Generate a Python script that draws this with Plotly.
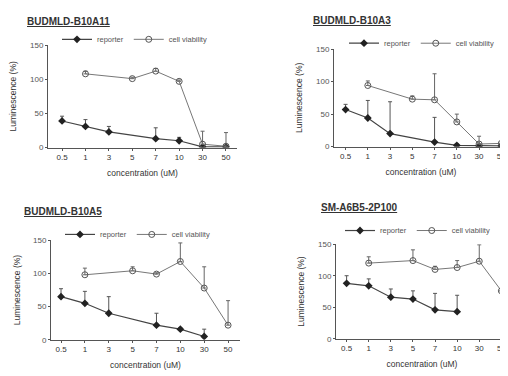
import plotly.graph_objects as go

conc = ["0.5", "1", "3", "5", "7", "10", "30", "50"]
y_ticks = [0, 50, 100, 150]

titles = ["BUDMLD-B10A11", "BUDMLD-B10A3", "BUDMLD-B10A5", "SM-A6B5-2P100"]

rep = [
    [39, 31, 23, None, 13, 10, 1, 1],
    [57, 44, 20, None, 7, 2, 1, 1],
    [65, 55, 40, None, 22, 16, 5, None],
    [88, 84, 66, 63, 46, 43, None, None],
]
rep_err = [
    [7, 10, 8, 0, 16, 5, 0, 0],
    [8, 27, 49, 0, 38, 2, 0, 0],
    [12, 18, 25, 0, 18, 2, 11, 0],
    [12, 11, 13, 13, 26, 26, 0, 0],
]
via = [
    [None, 108, None, 101, 112, 97, 5, 2],
    [None, 94, None, 73, 72, 38, 4, 5],
    [None, 98, None, 104, 99, 118, 78, 22],
    [None, 120, None, 124, 110, 113, 123, 76],
]
via_err = [
    [0, 4, 0, 2, 4, 2, 19, 20],
    [0, 7, 0, 5, 40, 12, 12, 0],
    [0, 10, 0, 6, 2, 28, 32, 37],
    [0, 10, 0, 17, 5, 11, 26, 0],
]

# The page body has an 8px default margin, so the figure is 500x368 and
# geometry below is given in window pixels, then converted to paper fractions.
OX, OY, W, H = 8, 8, 500, 368


def fx(p):
    return (p - OX) / W


def fy(p):
    return 1 - (p - OY) / H


panel_x_px = [(48, 237), (334, 508), (51, 240), (336, 508)]
panel_y_px = [(42, 147), (46, 146), (242, 344), (246, 343)]
x_ranges = [[-0.6, 7.47], [-0.52, 7.3], [-0.42, 7.5], [-0.48, 7.3]]
title_px = [(25, 18), (311, 17), (22, 213), (319, 208)]
legend_px = [(57, 36), (344, 40), (60, 236), (340, 232)]
ytitle_standoff = [12, 12, 11, 12]

ink = "#333333"
fig = go.Figure()
layout = dict(
    width=W, height=H, margin=dict(l=0, r=0, t=0, b=0),
    paper_bgcolor="white", plot_bgcolor="white",
    font=dict(family="Liberation Sans, Arial", color=ink, size=8),
    annotations=[],
)

for i in range(4):
    sfx = "" if i == 0 else str(i + 1)
    xa = "x" + sfx
    ya = "y" + sfx
    lg = "legend" + sfx
    fig.add_trace(go.Scatter(
        x=conc, y=rep[i], xaxis=xa, yaxis=ya, name="reporter", legend=lg,
        mode="lines+markers", connectgaps=True,
        line=dict(color="#444444", width=1.2),
        marker=dict(symbol="diamond", size=6, color="#222222"),
        error_y=dict(type="data", array=rep_err[i], arrayminus=[0] * 8,
                     symmetric=False, color="#555555", thickness=1, width=2),
    ))
    fig.add_trace(go.Scatter(
        x=conc, y=via[i], xaxis=xa, yaxis=ya, name="cell viability", legend=lg,
        mode="lines+markers", connectgaps=True,
        line=dict(color="#777777", width=1),
        marker=dict(symbol="circle-open", size=6, color="#555555"),
        error_y=dict(type="data", array=via_err[i], arrayminus=[0] * 8,
                     symmetric=False, color="#666666", thickness=1, width=2),
    ))
    x0, x1 = panel_x_px[i]
    y0, y1 = panel_y_px[i]
    layout["xaxis" + sfx] = dict(
        domain=[fx(x0), min(fx(x1), 1.0)], anchor=ya, type="category",
        categoryorder="array", categoryarray=conc, range=x_ranges[i],
        showgrid=False, zeroline=False,
        showline=True, linecolor="#555555", linewidth=1, ticks="outside",
        ticklen=2, tickcolor="#555555", tickfont=dict(size=8, color=ink),
        title=dict(text="concentration (uM)", font=dict(size=8.5, color=ink), standoff=8),
    )
    layout["yaxis" + sfx] = dict(
        domain=[fy(y1), fy(y0)], anchor=xa, range=[0, 150], tickvals=y_ticks,
        showgrid=False, zeroline=False, showline=True, linecolor="#555555",
        linewidth=1, ticks="outside", ticklen=2, tickcolor="#555555",
        tickfont=dict(size=8, color="#555555"),
        title=dict(text="Luminescence (%)", font=dict(size=8.5, color=ink),
                   standoff=ytitle_standoff[i]),
    )
    layout[lg] = dict(
        x=fx(legend_px[i][0]), y=fy(legend_px[i][1]), xanchor="left", yanchor="middle",
        orientation="h", bgcolor="rgba(0,0,0,0)", font=dict(size=7.5, color="#555555"),
        itemwidth=30, tracegroupgap=0, itemsizing="trace",
    )
    layout["annotations"].append(dict(
        text="<u><b>" + titles[i] + "</b></u>", xref="paper", yref="paper",
        x=fx(title_px[i][0]), y=fy(title_px[i][1]), xanchor="left", yanchor="middle",
        showarrow=False, font=dict(size=10, color=ink),
    ))

fig.update_layout(**layout)
fig.write_html("out.html")
